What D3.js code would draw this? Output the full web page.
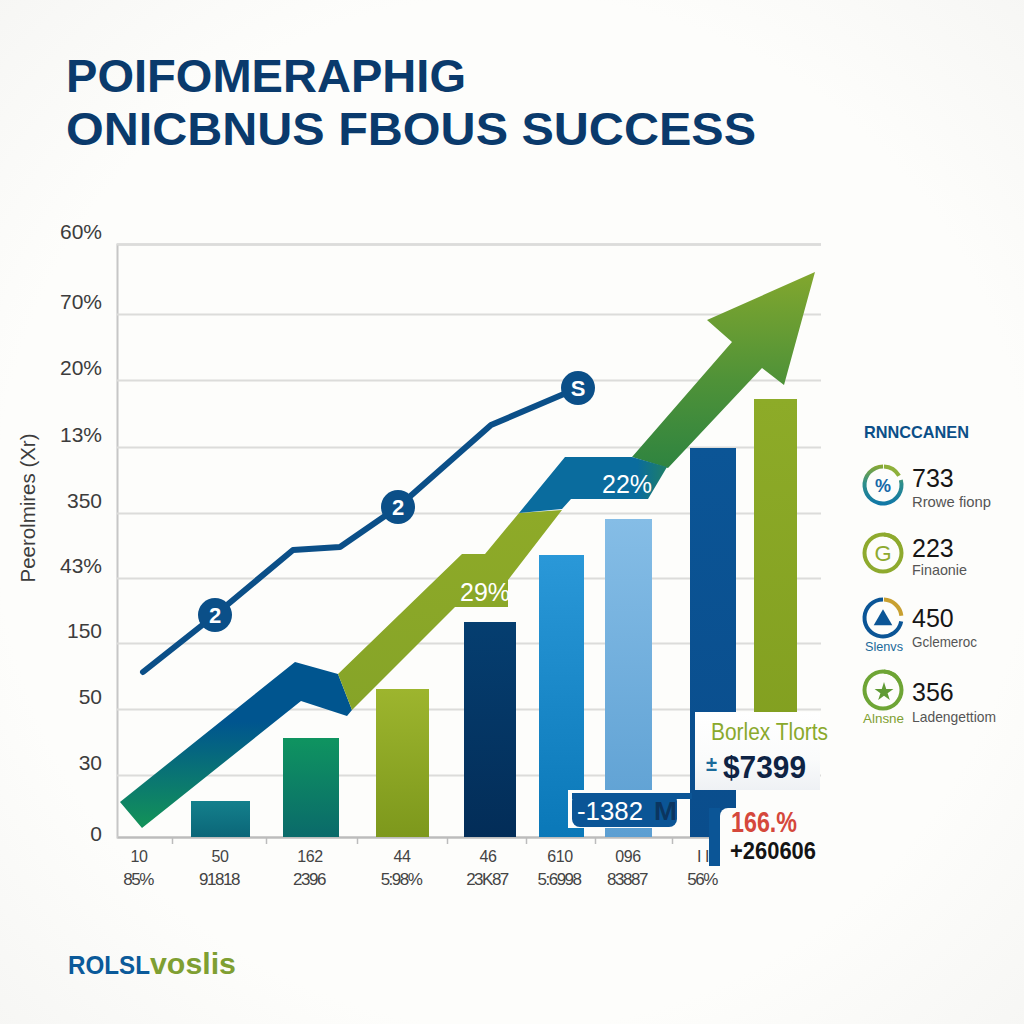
<!DOCTYPE html>
<html>
<head>
<meta charset="utf-8">
<script src="https://cdn.jsdelivr.net/npm/d3@7"></script>
<style>
    html, body { margin: 0; padding: 0; background: #fdfdfb; }
    svg { display: block; }
    text { font-family: "Liberation Sans", Arial, sans-serif; }
</style>
</head>
<body>
<div id="chart"></div>
<script>
const categories = ["10", "50", "162", "44", "46", "610", "096", "I I"];
const subLabels = ["85%", "91818", "2396", "5:98%", "23K87", "5:6998", "83887", "56%"];
const categoryX = [22, 103, 193, 285, 371, 443, 511, 586];

const barX = [103.5, 194, 285.5, 373, 444.5, 511.5, 596, 658.5];
const barWidths = [59, 56, 53, 52, 45, 47, 46, 43];
const barValues = [36, 99, 148, 215, 282, 318, 389, 438];

const gridValues = [0, 62, 128, 194, 259, 324, 390, 457, 523, 593];
const yTickLabels = ["0", "30", "50", "150", "43%", "350", "13%", "20%", "70%", "60%"];
const xTickValues = [55, 149, 240, 330, 409, 478, 555];

const lineX = [26, 98, 176, 223, 281, 374, 461];
const lineY = [165, 222, 287, 290, 330, 412, 449];
const lineMarkers = [1, 4, 6];
const markerLabels = ["2", "2", "S"];

// Ribbon behind the line, one piece per colour
const ribbonLow = [[3, 35], [178, 175], [221, 163], [235, 127], [230, 121], [184, 136], [25, 9]];
const ribbonMid = [[221, 163], [345, 283], [368, 283], [402, 324], [445, 327], [391, 257], [391, 230], [338, 230], [235, 127]];
const ribbonHigh = [[402, 324], [448, 380], [515, 380], [550, 370], [531, 338], [454, 338], [445, 328]];
const ribbonArrow = [[515, 380], [615, 495], [590, 517], [698, 565], [667, 452], [645, 469], [551, 369]];

const legendValues = ["733", "223", "450", "356"];
const legendNames = ["Rrowe fionp", "Finaonie", "Gclemeroc", "Ladengettiom"];

// Styles, same order as the bars
const barTop = ["#14808c", "#0f9460", "#9db52e", "#053e70", "#2a98d8", "#85bde6", "#0b5596", "#8dab28"];
const barBottom = ["#0b6678", "#0a6a6a", "#7d981c", "#032d58", "#0a78b8", "#5c9fd2", "#0a4d8c", "#7f9c1e"];

const width = 1024;
const height = 1024;
const plot = { left: 117, right: 821, top: 244, bottom: 837 };

const svg = d3.select("#chart").append("svg")
    .attr("width", width)
    .attr("height", height)
    .attr("viewBox", `0 0 ${width} ${height}`);

const defs = svg.append("defs");

const paper = defs.append("radialGradient").attr("id", "paper").attr("r", 0.72);
paper.append("stop").attr("offset", 0.7).attr("stop-color", "#fdfdfb");
paper.append("stop").attr("offset", 1).attr("stop-color", "#f6f6f4");
svg.append("rect").attr("width", width).attr("height", height).attr("fill", "url(#paper)");

const x = d3.scaleLinear().domain([0, 704]).range([plot.left, plot.right]);
const y = d3.scaleLinear().domain([0, 593]).range([plot.bottom, plot.top]);

function addGradient(id, stops, horizontal) {
    const g = defs.append("linearGradient")
        .attr("id", id)
        .attr("x1", 0).attr("y1", 0)
        .attr("x2", horizontal ? 1 : 0).attr("y2", horizontal ? 0 : 1);
    stops.forEach(s => g.append("stop").attr("offset", s[0]).attr("stop-color", s[1]));
}

barTop.forEach((c, i) => addGradient("bar" + i, [[0, c], [1, barBottom[i]]]));
addGradient("ribbonLowFill", [[0, "#00558f"], [0.36, "#00558f"], [0.97, "#12905a"]]);
addGradient("ribbonMidFill", [[0, "#8eaa28"], [1, "#86a428"]]);
addGradient("ribbonHighFill", [[0, "#0a6c9e"], [0.8, "#0a6c9e"], [1, "#1f7f66"]], true);
addGradient("ribbonArrowFill", [[0, "#82a72e"], [0.55, "#4f9238"], [1, "#2f8440"]]);
addGradient("cardFill", [[0, "#ffffff"], [0.6, "#fafbfb"], [1, "#eef1f4"]]);
addGradient("ringFade", [[0, "#8eaa2e"], [0.45, "#2f8f8a"], [1, "#0f76a8"]]);

// Y axis with its gridlines, labels sit above the lines
const yAxis = svg.append("g")
    .attr("transform", `translate(${plot.left},0)`)
    .call(d3.axisLeft(y).tickValues(gridValues).tickSize(-704).tickFormat((d, i) => yTickLabels[i]));

yAxis.select(".domain").attr("stroke", "#c6c6c6").attr("stroke-width", 2);
yAxis.selectAll(".tick line").attr("stroke", "#dcdcda").attr("stroke-width", 2);
yAxis.selectAll(".tick text")
    .attr("x", -15)
    .attr("dy", (d, i) => i === 0 ? 3 : -6)
    .attr("fill", "#3c3c3c")
    .attr("font-size", 21);

// X axis, just the line and tick marks
const xAxis = svg.append("g")
    .attr("transform", `translate(0,${plot.bottom})`)
    .call(d3.axisBottom(x).tickValues(xTickValues).tickSize(7).tickSizeOuter(0).tickFormat(""));

xAxis.select(".domain").attr("stroke", "#bcbcbc").attr("stroke-width", 2);
xAxis.selectAll(".tick line").attr("stroke", "#bcbcbc").attr("stroke-width", 1.5);

svg.append("g").selectAll("text")
    .data(categories)
    .join("text")
    .attr("x", (d, i) => x(categoryX[i]))
    .attr("y", 862)
    .attr("text-anchor", "middle")
    .attr("font-size", 16)
    .attr("letter-spacing", -0.4)
    .attr("fill", "#444")
    .text(d => d);

svg.append("g").selectAll("text")
    .data(subLabels)
    .join("text")
    .attr("x", (d, i) => x(categoryX[i]) - 1)
    .attr("y", 885)
    .attr("text-anchor", "middle")
    .attr("font-size", 17)
    .attr("letter-spacing", -1.5)
    .attr("fill", "#444")
    .text(d => d);

svg.append("text")
    .attr("transform", "translate(35,508) rotate(-90)")
    .attr("text-anchor", "middle")
    .attr("font-size", 20)
    .attr("fill", "#3c3c3c")
    .attr("textLength", 149)
    .attr("lengthAdjust", "spacingAndGlyphs")
    .text("Peerolmires (Xr)");

// Bars
svg.append("g").selectAll("rect")
    .data(barValues)
    .join("rect")
    .attr("x", (d, i) => x(barX[i] - barWidths[i] / 2))
    .attr("width", (d, i) => x(barWidths[i]) - x(0))
    .attr("y", d => y(d))
    .attr("height", d => y(0) - y(d))
    .attr("fill", (d, i) => `url(#bar${i})`);

// Ribbon and arrow
const ribbonPath = d3.line().x(d => x(d[0])).y(d => y(d[1]));
const ribbons = [
    [ribbonArrow, "ribbonArrowFill"],
    [ribbonLow, "ribbonLowFill"],
    [ribbonMid, "ribbonMidFill"],
    [ribbonHigh, "ribbonHighFill"]
];
svg.append("g").selectAll("path")
    .data(ribbons)
    .join("path")
    .attr("d", d => ribbonPath(d[0]) + "Z")
    .attr("fill", d => `url(#${d[1]})`);

function bandLabel(text, px, py) {
    svg.append("text")
        .attr("x", px)
        .attr("y", py)
        .attr("font-size", 25)
        .attr("fill", "#fff")
        .text(text);
}
bandLabel("29%", 460, 601);
bandLabel("22%", 602, 493);

// Line with numbered markers
const linePath = d3.line().x((d, i) => x(lineX[i])).y(d => y(d));
svg.append("path")
    .datum(lineY)
    .attr("d", linePath)
    .attr("fill", "none")
    .attr("stroke", "#0b4f88")
    .attr("stroke-width", 6)
    .attr("stroke-linecap", "round")
    .attr("stroke-linejoin", "round");

const markers = svg.append("g").selectAll("g")
    .data(lineMarkers)
    .join("g")
    .attr("transform", d => `translate(${x(lineX[d])},${y(lineY[d])})`);
markers.append("circle").attr("r", 17).attr("fill", "#0b4f88");
markers.append("text")
    .attr("text-anchor", "middle")
    .attr("y", 8)
    .attr("font-size", 22)
    .attr("font-weight", "bold")
    .attr("fill", "#fff")
    .text((d, i) => markerLabels[i]);

// Callouts at the lower right
function fitted(g, text, px, py, size, w, color, bold) {
    return g.append("text")
        .attr("x", px)
        .attr("y", py)
        .attr("font-size", size)
        .attr("font-weight", bold ? "bold" : "normal")
        .attr("fill", color)
        .attr("textLength", w)
        .attr("lengthAdjust", "spacingAndGlyphs")
        .text(text);
}

const callouts = svg.append("g");
callouts.append("rect").attr("x", 695).attr("y", 712).attr("width", 125).attr("height", 78).attr("fill", "url(#cardFill)");
fitted(callouts, "Borlex Tlorts", 711, 740, 23, 117, "#8aa92c", false);
fitted(callouts, "±", 706, 771, 20, 11, "#1a6a9a", true);
fitted(callouts, "$7399", 723, 778, 32, 83, "#0e2344", true);

callouts.append("rect").attr("x", 736).attr("y", 790).attr("width", 94).attr("height", 30).attr("fill", "#fdfdfb");
callouts.append("rect").attr("x", 720).attr("y", 808).attr("width", 110).attr("height", 85).attr("rx", 8).attr("fill", "#fdfdfb");
callouts.append("rect").attr("x", 709).attr("y", 808).attr("width", 11).attr("height", 58).attr("fill", "#0b5596");

callouts.append("rect").attr("x", 568).attr("y", 790).attr("width", 122).attr("height", 38).attr("fill", "#fdfdfb");
callouts.append("rect").attr("x", 572).attr("y", 793).attr("width", 120).attr("height", 6).attr("fill", "#0b5596");
callouts.append("rect").attr("x", 572).attr("y", 793).attr("width", 105).attr("height", 34).attr("rx", 8).attr("fill", "#0b5596");
fitted(callouts, "-1382", 577, 820, 25, 66, "#fff", false);
fitted(callouts, "M", 654, 820, 25, 23, "#0b3560", true);

fitted(callouts, "166.%", 731, 832, 29, 66, "#d5483c", true);
fitted(callouts, "+260606", 730, 859, 23, 86, "#141414", true);

// Legend
fitted(svg, "RNNCCANEN", 864, 438, 17, 105, "#0b4f88", true);

const legendY = [485, 553, 618, 690];
const ringTrack = ["url(#ringFade)", "#8eaa2e", "#0b5596", "#6ea535"];
const ringAccent = ["#8eb03a", "#8eaa2e", "#c8a030", "#6ea535"];
const ringTrackStart = [1.3, 0, 1.75, 0];
const ringAccentEnd = [1.05, 1.1, 1.45, 1.1];
const valueY = [487, 557, 627, 701];
const nameY = [507, 575, 647, 722];
const nameWidth = [79, 55, 65, 84];
const arc = d3.arc().innerRadius(16.5).outerRadius(20.5);

const legendRows = svg.append("g").selectAll("g")
    .data(legendValues)
    .join("g");

legendRows.append("path")
    .attr("transform", (d, i) => `translate(883,${legendY[i]})`)
    .attr("d", (d, i) => arc({ startAngle: ringTrackStart[i], endAngle: Math.PI * 2 }))
    .attr("fill", (d, i) => ringTrack[i]);
legendRows.append("path")
    .attr("transform", (d, i) => `translate(883,${legendY[i]})`)
    .attr("d", (d, i) => arc({ startAngle: 0.05, endAngle: ringAccentEnd[i] }))
    .attr("fill", (d, i) => ringAccent[i]);

legendRows.append("text")
    .attr("x", 912)
    .attr("y", (d, i) => valueY[i])
    .attr("font-size", 25)
    .attr("fill", "#161616")
    .text(d => d);

legendRows.each(function (d, i) {
    fitted(d3.select(this), legendNames[i], 912, nameY[i], 15, nameWidth[i], "#555", false);
});

// Glyphs inside the rings
svg.append("text").attr("x", 883).attr("y", 492).attr("text-anchor", "middle").attr("font-size", 18).attr("font-weight", "bold").attr("fill", "#1668a8").text("%");
svg.append("text").attr("x", 883).attr("y", 561).attr("text-anchor", "middle").attr("font-size", 22).attr("fill", "#8eaa2e").text("G");
svg.append("path")
    .attr("transform", "translate(883,620)")
    .attr("d", d3.symbol(d3.symbolTriangle, 150)())
    .attr("fill", "#0b5596");
svg.append("path")
    .attr("transform", "translate(884,692)")
    .attr("d", d3.symbol(d3.symbolStar, 110)())
    .attr("fill", "#5f9a34");
fitted(svg, "Slenvs", 865, 651, 13, 38, "#1a6a9a", false);
fitted(svg, "Alnsne", 863, 723, 13, 41, "#7f9f32", false);

// Title and footer
const titleColor = "#0a3a6c";
fitted(svg, "POIFOMERAPHIG", 66, 92, 47, 400, titleColor, true);
fitted(svg, "ONICBNUS FBOUS SUCCESS", 66, 145, 47, 690, titleColor, true);
fitted(svg, "ROLSL", 68, 974, 26, 82, "#0b5a9a", true);
fitted(svg, "voslis", 150, 974, 30, 86, "#7f9f32", true);
</script>
</body>
</html>
